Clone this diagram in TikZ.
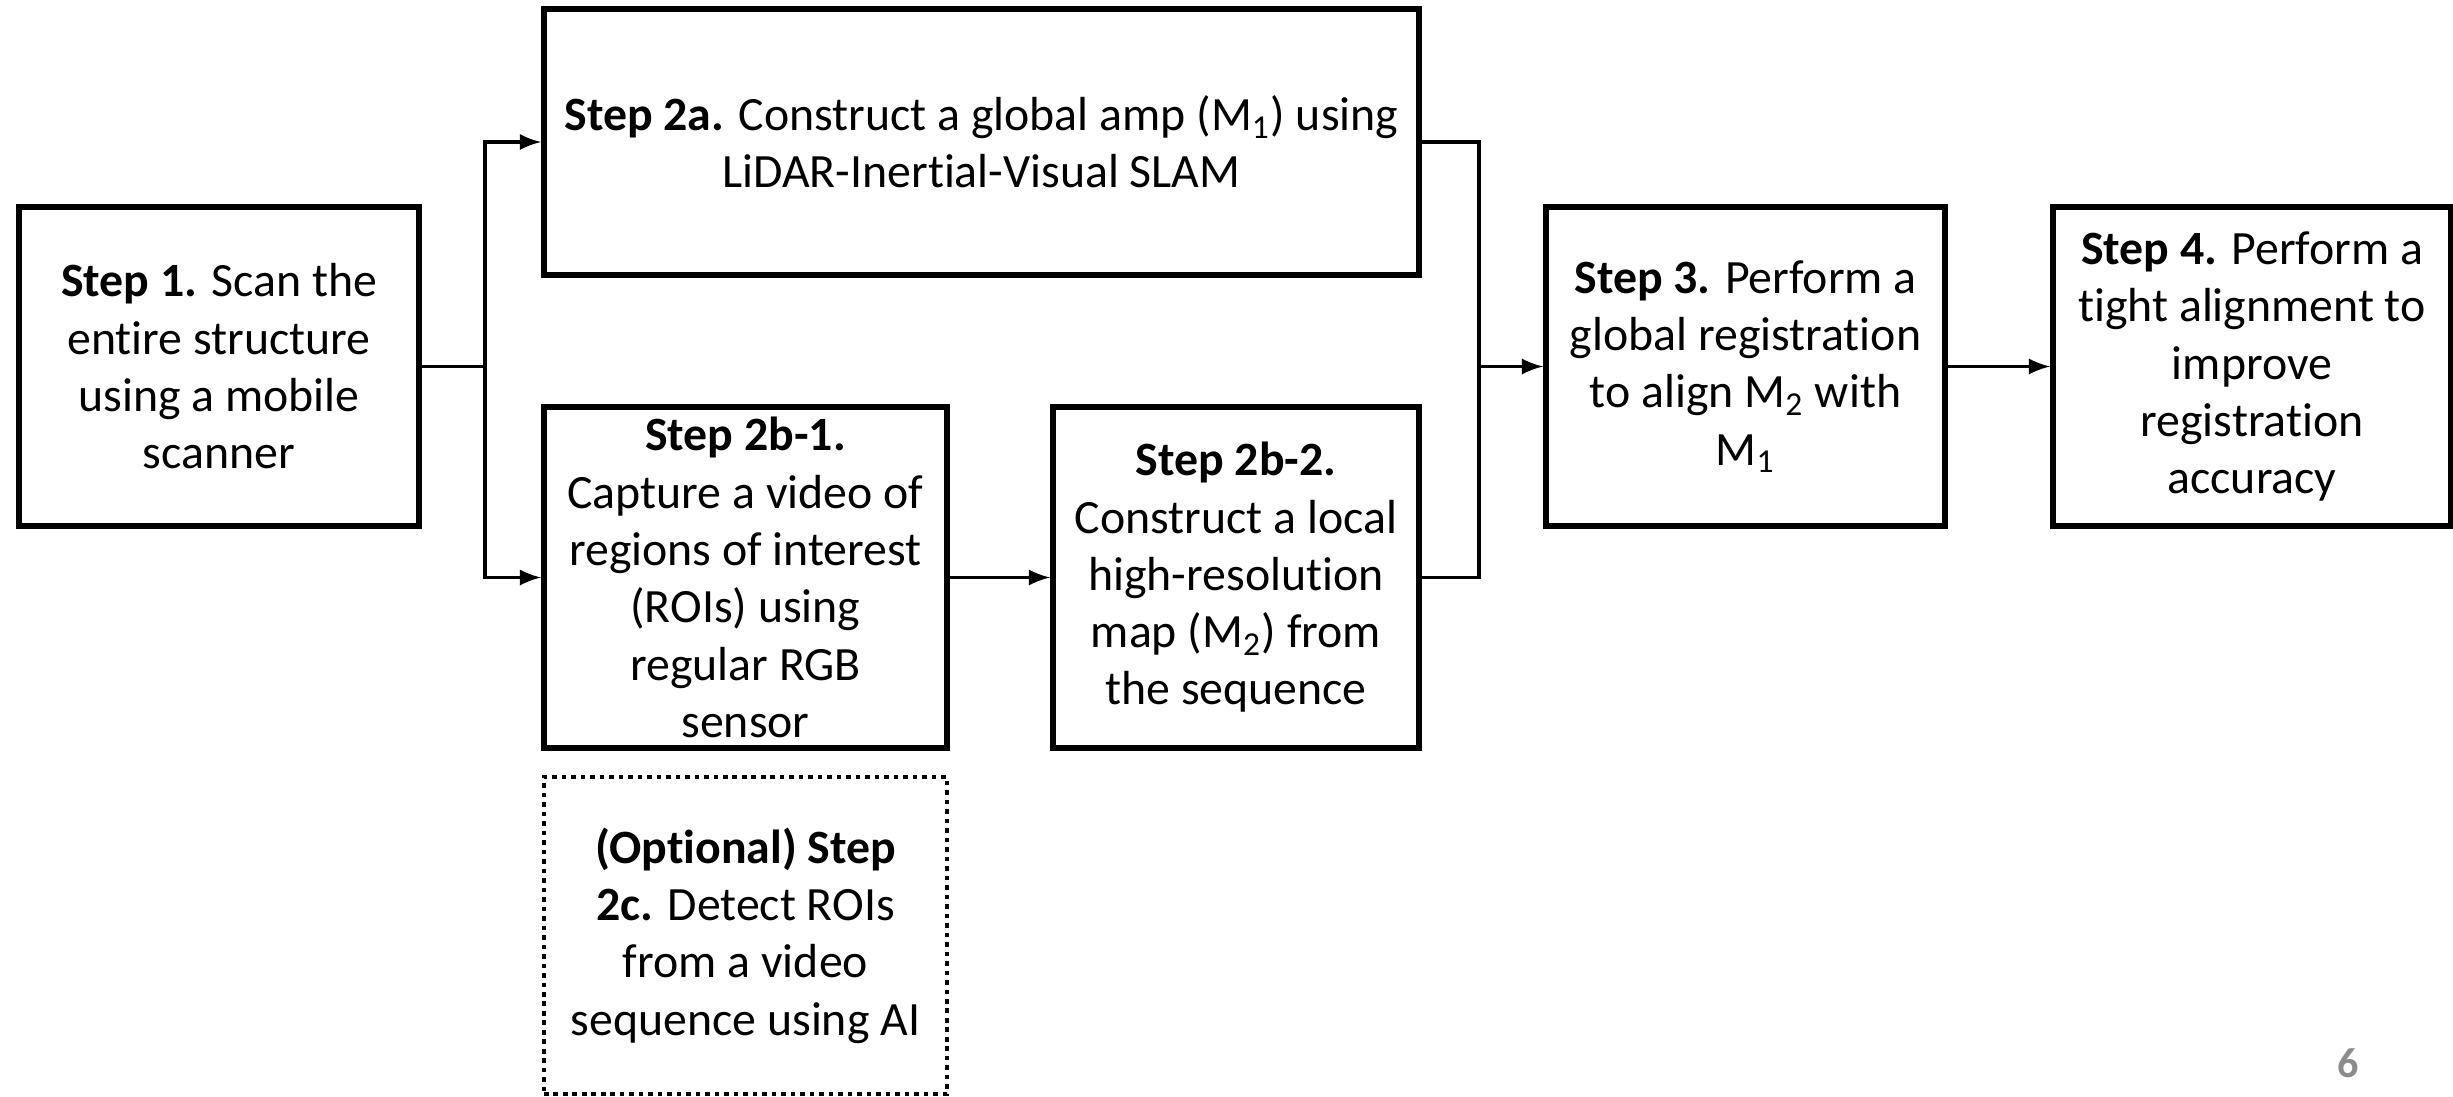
\documentclass[tikz,border=0pt]{standalone}
\usepackage{fontspec}
\setmainfont[Ligatures=NoCommon]{Carlito}
\usetikzlibrary{positioning}
\begin{document}
\begin{tikzpicture}[x=1cm, y=1cm, >=latex,
    every node/.style={font=\fontsize{13.6}{16.3}\selectfont},
    stepbox/.style={draw, line width=1.6pt, align=center, inner sep=0pt},
    optbox/.style={stepbox, line width=1.3pt, dash pattern=on 1.3pt off 1.4pt},
    link/.style={line width=1.1pt}]
    \useasboundingbox (0,0) rectangle (24.53,10.96);

    % 1. step boxes
    \node[stepbox, minimum width=4.00cm, minimum height=3.19cm] (s1) at (2.19,7.295)
        {\textbf{Step 1.} Scan the\\entire structure\\using a mobile\\scanner};
    \node[stepbox, minimum width=8.75cm, minimum height=2.66cm] (s2a) at (9.815,9.54)
        {\textbf{Step 2a.} Construct a global amp (M\textsubscript{1}) using\\LiDAR-Inertial-Visual SLAM};
    \node[stepbox, minimum width=4.03cm, minimum height=3.41cm] (s2b1) at (7.455,5.185)
        {\textbf{Step 2b-1.}\\Capture a video of\\regions of interest\\(ROIs) using\\regular RGB\\sensor};
    \node[stepbox, minimum width=3.66cm, minimum height=3.41cm] (s2b2) at (12.36,5.185)
        {\textbf{Step 2b-2.}\\Construct a local\\high-resolution\\map (M\textsubscript{2}) from\\the sequence};
    \node[stepbox, minimum width=3.99cm, minimum height=3.19cm] (s3) at (17.455,7.295)
        {\textbf{Step 3.} Perform a\\global registration\\to align M\textsubscript{2} with\\M\textsubscript{1}};
    \node[stepbox, minimum width=3.98cm, minimum height=3.19cm] (s4) at (22.52,7.295)
        {\textbf{Step 4.} Perform a\\tight alignment to\\improve\\registration\\accuracy};
    \node[optbox, minimum width=4.03cm, minimum height=3.17cm] (s2c) at (7.455,1.605)
        {\textbf{(Optional) Step}\\\textbf{2c.} Detect ROIs\\from a video\\sequence using AI};

    % 2. connectors
    \coordinate[right=0.63cm of s1.east] (split);
    \coordinate[left=0.64cm of s3.west] (merge);
    \draw[link] (s1.east) -- (split);
    \draw[link, ->] (split) |- (s2a.west);
    \draw[link, ->] (split) |- (s2b1.west);
    \draw[link, ->] (s2b1) -- (s2b2);
    \draw[link] (s2a.east) -| (merge);
    \draw[link] (s2b2.east) -| (merge);
    \draw[link, ->] (merge) -- (s3.west);
    \draw[link, ->] (s3) -- (s4);

    % 3. page number
    \node[text=black!45, font=\fontsize{12}{14}\selectfont\bfseries] (page) at (23.48,0.33) {6};
\end{tikzpicture}
\end{document}
